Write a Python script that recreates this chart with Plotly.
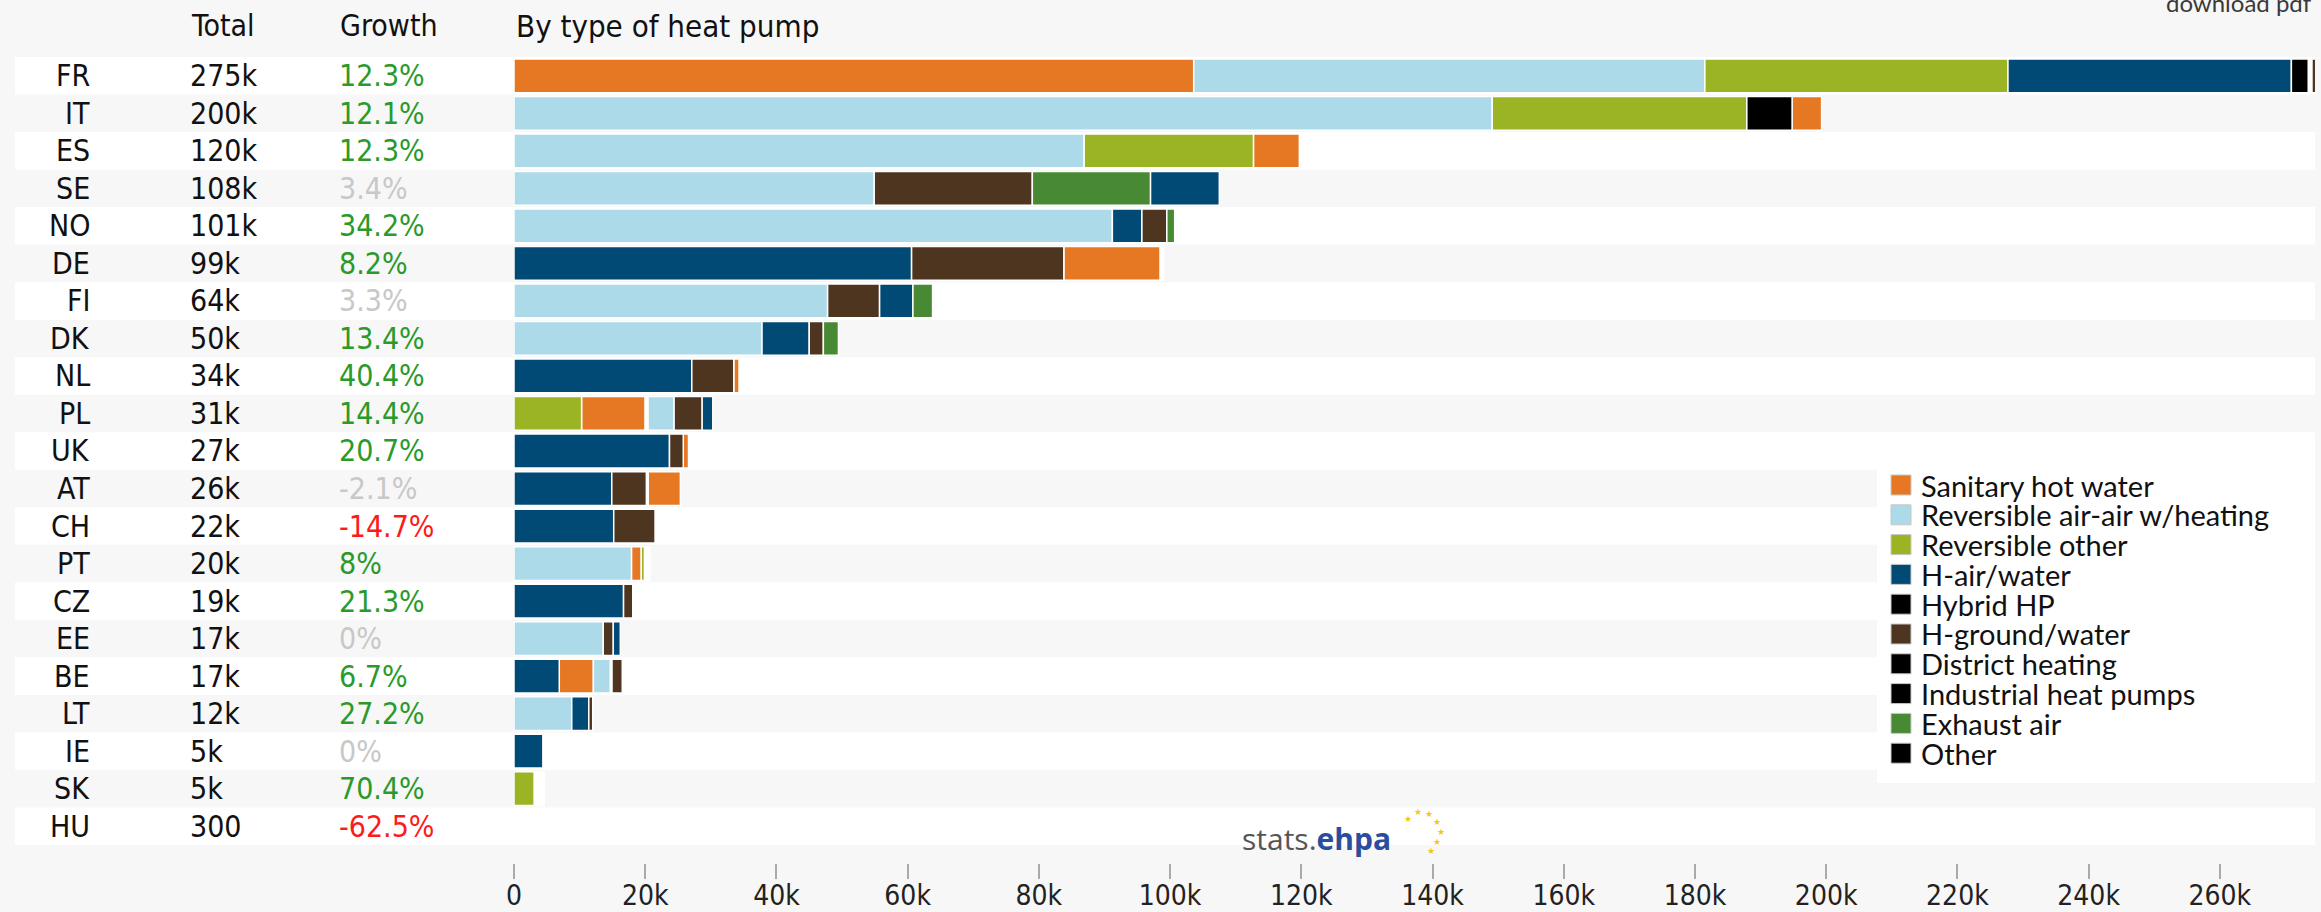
import plotly.graph_objects as go

# ---------------- data ----------------
countries = ["FR", "IT", "ES", "SE", "NO", "DE", "FI", "DK", "NL", "PL", "UK",
             "AT", "CH", "PT", "CZ", "EE", "BE", "LT", "IE", "SK", "HU"]
total_labels = ["275k", "200k", "120k", "108k", "101k", "99k", "64k", "50k", "34k", "31k", "27k",
                "26k", "22k", "20k", "19k", "17k", "17k", "12k", "5k", "5k", "300"]
growth_pct = [12.3, 12.1, 12.3, 3.4, 34.2, 8.2, 3.3, 13.4, 40.4, 14.4, 20.7,
              -2.1, -14.7, 8, 21.3, 0, 6.7, 27.2, 0, 70.4, -62.5]

# sales by type, thousands of units
sanitary_hot_water = [103.6, 4.5, 7.0, 0, 0, 14.7, 0, 0, 0.8, 9.7, 0.8,
                      4.9, 0, 1.5, 0, 0, 5.2, 0, 0, 0, 0]
reversible_air_air = [77.9, 149.1, 86.9, 54.9, 91.2, 0, 47.8, 37.8, 0, 4.0, 0,
                      0, 0, 17.9, 0, 13.6, 2.6, 8.8, 0, 0, 0]
reversible_other = [46.2, 38.8, 25.8, 0, 0, 0, 0, 0, 0, 10.3, 0,
                    0, 0, 0.5, 0, 0, 0, 0, 0, 3.1, 0]
h_air_water = [43.2, 0, 0, 10.5, 4.5, 60.6, 5.1, 7.2, 27.1, 1.65, 23.7,
               14.9, 15.2, 0, 16.7, 1.1, 6.9, 2.6, 4.4, 0, 0]
hybrid_hp = [2.6, 6.9, 0, 0, 0, 0, 0, 0, 0, 0, 0,
             0, 0, 0, 0, 0, 0, 0, 0, 0, 0]
h_ground_water = [1.0, 0, 0, 24.1, 3.8, 23.2, 7.9, 2.15, 6.4, 4.25, 2.1,
                  5.3, 6.3, 0, 1.4, 1.5, 1.6, 0.6, 0, 0, 0]
district_heating = [0] * 21
industrial_hp = [0] * 21
exhaust_air = [0, 0, 0, 18.0, 1.2, 0, 3.0, 2.3, 0, 0, 0,
               0, 0, 0, 0, 0, 0, 0, 0, 0, 0]
other = [0] * 21
unspecified = [0.5, 0, 0, 0, 0, 0.5, 0, 0, 0, 0.4, 0,
               0.26, 0, 0.8, 0, 0, 0.2, 0, 0, 1.5, 0.3]

# order of the segments inside each bar
stack_order = ["SHW AA RO HAW HYB UNS HGW", "AA RO HYB SHW", "AA RO SHW", "AA HGW EXH HAW",
               "AA HAW HGW EXH", "HAW HGW SHW UNS", "AA HGW HAW EXH", "AA HAW HGW EXH",
               "HAW HGW SHW", "RO SHW UNS AA HGW HAW", "HAW HGW SHW", "HAW HGW UNS SHW",
               "HAW HGW", "AA SHW RO UNS", "HAW HGW", "AA HGW HAW", "HAW SHW AA UNS HGW",
               "AA HAW HGW", "HAW", "RO UNS", "UNS"]

type_keys = ["SHW", "AA", "RO", "HAW", "HYB", "HGW", "DH", "IND", "EXH", "OTH", "UNS"]
type_names = ["Sanitary hot water", "Reversible air-air w/heating", "Reversible other",
              "H-air/water", "Hybrid HP", "H-ground/water", "District heating",
              "Industrial heat pumps", "Exhaust air", "Other", "Unspecified"]
type_colors = ["#E67823", "#ADDAE8", "#9BB423", "#014A75", "#000000", "#4E3520",
               "#000000", "#000000", "#478A33", "#000000", "#FFFFFF"]
type_values = [sanitary_hot_water, reversible_air_air, reversible_other, h_air_water,
               hybrid_hp, h_ground_water, district_heating, industrial_hp,
               exhaust_air, other, unspecified]

tick_values = [0, 20, 40, 60, 80, 100, 120, 140, 160, 180, 200, 220, 240, 260]
tick_labels = ["0", "20k", "40k", "60k", "80k", "100k", "120k", "140k", "160k",
               "180k", "200k", "220k", "240k", "260k"]

# ---------------- layout geometry ----------------
W, H = 2321, 912
L, R = 514, 2315
T, B = 57, 863
ROW = 37.5
BG = "#F7F7F7"
TABLE_FONT = "DejaVu Sans Condensed, Liberation Sans Narrow, Liberation Sans, sans-serif"
LEG_FONT = "Lato, Carlito, Open Sans, sans-serif"


def px_x(p):
    return (p - L) / (R - L)


def px_y(p):
    return (B - p) / (B - T)


# compute segment bases
value_of = {k: v for k, v in zip(type_keys, type_values)}
bases = {k: [None] * len(countries) for k in type_keys}
for i, order in enumerate(stack_order):
    pos = 0.0
    for k in order.split():
        bases[k][i] = pos
        pos += value_of[k][i]

fig = go.Figure()
for k, name, color, vals in zip(type_keys, type_names, type_colors, type_values):
    xs = [v if v else None for v in vals]
    bs = [b if b is not None else 0 for b in bases[k]]
    fig.add_trace(go.Bar(
        orientation="h", y=countries, x=xs, base=bs, name=name,
        marker=dict(color=color, line=dict(color="#FFFFFF", width=1.5)),
        width=0.9, showlegend=False,
        hovertemplate="%{y}: %{x:.1f}k<extra>" + name + "</extra>",
    ))

shapes = []
# white row stripes
for i, c in enumerate(countries):
    if i % 2 == 0:
        shapes.append(dict(type="rect", xref="paper", yref="y", layer="below",
                           x0=px_x(15), x1=1.0, y0=i - 0.5, y1=i + 0.5,
                           fillcolor="#FFFFFF", line=dict(width=0)))

# manual legend box
shapes.append(dict(type="rect", xref="paper", yref="paper", layer="above",
                   x0=px_x(1877), x1=1.0, y0=px_y(783), y1=px_y(465),
                   fillcolor="#FFFFFF", line=dict(width=0)))

annotations = []
# header
for label, xp, fs in [("Total", 189, 30), ("Growth", 338, 30), ("By type of heat pump", 514, 31)]:
    annotations.append(dict(text=label, xref="paper", yref="paper", x=px_x(xp), y=px_y(26),
                            xanchor="left", yanchor="middle", showarrow=False,
                            font=dict(family=TABLE_FONT, size=fs, color="#111111")))

# table rows
for i, c in enumerate(countries):
    g = growth_pct[i]
    if g >= 5:
        gcol = "#2A9A2A"
    elif g <= -5:
        gcol = "#FF1A1A"
    else:
        gcol = "#C8C8C8"
    annotations.append(dict(text=c, xref="paper", yref="y", x=px_x(92), y=c,
                            xanchor="right", yanchor="middle", showarrow=False,
                            font=dict(family=TABLE_FONT, size=30, color="#111111")))
    annotations.append(dict(text=total_labels[i], xref="paper", yref="y", x=px_x(188), y=c,
                            xanchor="left", yanchor="middle", showarrow=False,
                            font=dict(family=TABLE_FONT, size=30, color="#111111")))
    annotations.append(dict(text=f"{g:g}%", xref="paper", yref="y", x=px_x(337), y=c,
                            xanchor="left", yanchor="middle", showarrow=False,
                            font=dict(family=TABLE_FONT, size=30, color=gcol)))

# legend entries
for j in range(10):
    cy = 485 + j * 29.8
    shapes.append(dict(type="rect", xref="paper", yref="paper", layer="above",
                       x0=px_x(1891), x1=px_x(1911), y0=px_y(cy + 10), y1=px_y(cy - 10),
                       fillcolor=type_colors[j], line=dict(color="#C8C8C8", width=1)))
    annotations.append(dict(text=type_names[j], xref="paper", yref="paper",
                            x=px_x(1919), y=px_y(cy), xanchor="left", yanchor="middle",
                            showarrow=False,
                            font=dict(family=LEG_FONT, size=29, color="#111111")))

# logo
annotations.append(dict(
    text="<span style='color:#555555'>stats.</span><b><span style='color:#2A4E9E'>ehpa</span></b>",
    xref="paper", yref="paper", x=px_x(1240), y=px_y(838), xanchor="left", yanchor="middle",
    showarrow=False, font=dict(family="Open Sans, sans-serif", size=30)))
for sx, sy in [(1408, 818), (1418, 811), (1429, 813), (1437, 821),
               (1441, 831), (1437, 841), (1431, 850)]:
    annotations.append(dict(text="★", xref="paper", yref="paper", x=px_x(sx), y=px_y(sy),
                            xanchor="center", yanchor="middle", showarrow=False,
                            font=dict(size=9, color="#F2C811")))

# download pdf (clipped at top, as in the original page)
annotations.append(dict(text="download pdf", xref="paper", yref="paper",
                        x=px_x(2314), y=px_y(3), xanchor="right", yanchor="middle",
                        showarrow=False, font=dict(family=LEG_FONT, size=24, color="#3A3A3A")))

fig.update_layout(
    width=W, height=H,
    margin=dict(l=L, r=W - R, t=T, b=H - B, pad=0, autoexpand=False),
    paper_bgcolor=BG, plot_bgcolor=BG,
    barmode="overlay",
    shapes=shapes, annotations=annotations,
    xaxis=dict(range=[0, 274.5], tickvals=tick_values, ticktext=tick_labels,
               showgrid=False, zeroline=False, showline=False, automargin=False,
               ticks="outside", ticklen=15, tickwidth=2, tickcolor="#AAAAAA",
               ticklabelstandoff=-8,
               tickfont=dict(family=TABLE_FONT, size=28, color="#222222"), fixedrange=True),
    yaxis=dict(type="category", categoryarray=countries, automargin=False,
               range=[20.5 + (B - 845) / ROW, -0.5], visible=False, fixedrange=True),
    showlegend=False,
)

fig.write_html(
    "out.html",
    config={"displayModeBar": False},
    post_script="document.body.style.margin='0px';document.body.style.backgroundColor='#F7F7F7';",
)
